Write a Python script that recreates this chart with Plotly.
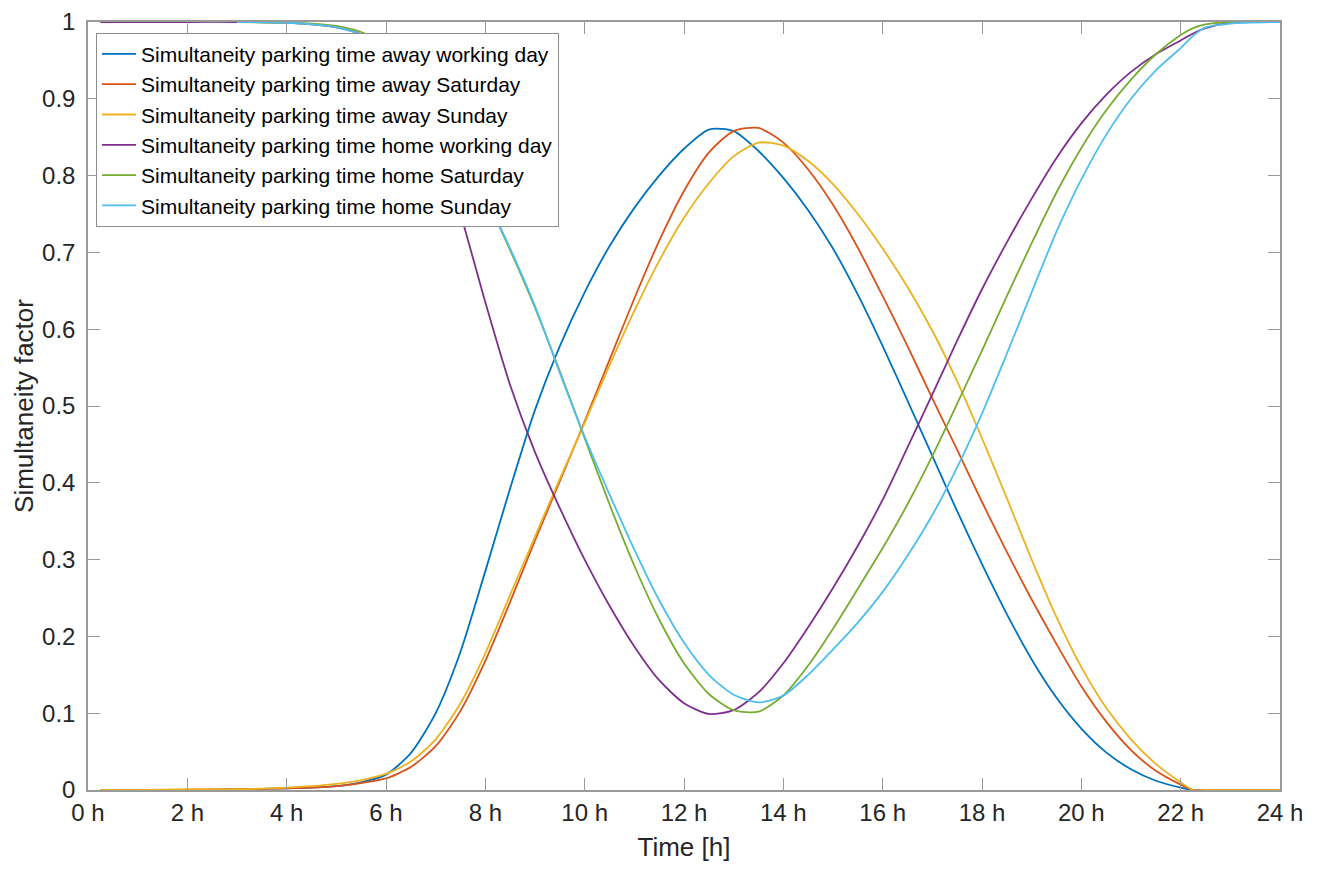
import plotly.graph_objects as go

# time of day [h]
hours = [0.25, 1, 2, 3, 4, 4.5, 5, 5.5, 6, 6.5, 7, 7.5, 8, 8.5, 9, 9.5, 10, 10.5,
         11, 11.5, 12, 12.5, 13, 13.5, 14, 14.5, 15, 15.5, 16, 16.5, 17, 17.5,
         18, 18.5, 19, 19.5, 20, 20.5, 21, 21.5, 22, 22.25, 22.5, 23, 24]

away_working = [0, 0, 0, 0.001, 0.002, 0.003, 0.005, 0.01, 0.02, 0.048, 0.1, 0.18,
                0.285, 0.393, 0.495, 0.578, 0.648, 0.708, 0.758, 0.80, 0.835, 0.86,
                0.858, 0.832, 0.797, 0.755, 0.705, 0.645, 0.578, 0.507, 0.435, 0.363,
                0.294, 0.229, 0.17, 0.12, 0.08, 0.049, 0.027, 0.012, 0.003, 0, 0, 0, 0]
away_saturday = [0, 0, 0, 0.001, 0.002, 0.003, 0.005, 0.009, 0.015, 0.03, 0.057, 0.103,
                 0.168, 0.245, 0.325, 0.402, 0.48, 0.56, 0.64, 0.715, 0.78, 0.83,
                 0.858, 0.862, 0.843, 0.808, 0.762, 0.706, 0.643, 0.578, 0.51, 0.443,
                 0.375, 0.31, 0.248, 0.19, 0.135, 0.089, 0.052, 0.025, 0.007, 0, 0, 0, 0]
away_sunday = [0, 0, 0.001, 0.001, 0.003, 0.005, 0.008, 0.013, 0.021, 0.037, 0.066, 0.113,
               0.178, 0.254, 0.33, 0.405, 0.478, 0.553, 0.624, 0.689, 0.745, 0.79,
               0.825, 0.843, 0.839, 0.819, 0.789, 0.75, 0.705, 0.655, 0.598, 0.532,
               0.458, 0.38, 0.30, 0.225, 0.16, 0.107, 0.066, 0.034, 0.01, 0, 0, 0, 0]
home_working = [1, 1, 1, 1, 0.999, 0.997, 0.993, 0.984, 0.962, 0.92, 0.85, 0.75,
                0.635, 0.527, 0.44, 0.367, 0.30, 0.24, 0.187, 0.143, 0.113, 0.099,
                0.104, 0.127, 0.165, 0.212, 0.263, 0.318, 0.378, 0.446, 0.515, 0.585,
                0.652, 0.713, 0.77, 0.823, 0.868, 0.905, 0.935, 0.958, 0.976, 0.985,
                0.992, 0.999, 1]
home_saturday = [None, None, None, 1, 0.999, 0.998, 0.995, 0.987, 0.97, 0.94, 0.895, 0.838,
                 0.773, 0.703, 0.628, 0.545, 0.458, 0.372, 0.292, 0.222, 0.165, 0.125,
                 0.104, 0.102, 0.123, 0.162, 0.21, 0.262, 0.315, 0.372, 0.435, 0.503,
                 0.572, 0.643, 0.712, 0.778, 0.836, 0.885, 0.925, 0.958, 0.983, 0.992,
                 0.997, 1, 1]
home_sunday = [None, None, None, 1, 0.999, 0.997, 0.993, 0.984, 0.968, 0.94, 0.895, 0.838,
               0.773, 0.705, 0.63, 0.543, 0.46, 0.385, 0.313, 0.247, 0.192, 0.15,
               0.124, 0.114, 0.123, 0.15, 0.183, 0.218, 0.258, 0.305, 0.358, 0.42,
               0.49, 0.568, 0.648, 0.727, 0.795, 0.853, 0.9, 0.937, 0.966, 0.982,
               0.993, 0.998, 1]

series = [
    ("Simultaneity parking time away working day", away_working, "#0072BD"),
    ("Simultaneity parking time away Saturday", away_saturday, "#D95319"),
    ("Simultaneity parking time away Sunday", away_sunday, "#EDB120"),
    ("Simultaneity parking time home working day", home_working, "#7E2F8E"),
    ("Simultaneity parking time home Saturday", home_saturday, "#77AC30"),
    ("Simultaneity parking time home Sunday", home_sunday, "#4DBEEE"),
]

x_ticks = list(range(0, 25, 2))
x_labels = [f"{h} h" for h in x_ticks]
y_ticks = [i / 10 for i in range(11)]
y_labels = ["0", "0.1", "0.2", "0.3", "0.4", "0.5", "0.6", "0.7", "0.8", "0.9", "1"]

fig = go.Figure()
for name, vals, color in series:
    fig.add_trace(go.Scatter(x=hours, y=vals, mode="lines", name=name,
                             line=dict(color=color, width=1.8, shape="spline", smoothing=0.7)))

axis_style = dict(
    showline=True, linecolor="#9a9a9a", linewidth=1.5, mirror="ticks",
    ticks="inside", ticklen=12, tickcolor="#9a9a9a", tickwidth=1.2,
    showgrid=False, zeroline=False, automargin=False,
    tickfont=dict(size=24, color="#262626"),
)

fig.update_xaxes(range=[0, 24], tickvals=x_ticks, ticktext=x_labels,
                 title=dict(text="Time [h]", font=dict(size=26, color="#262626"), standoff=13),
                 **axis_style)
fig.update_yaxes(range=[0, 1], tickvals=y_ticks, ticktext=y_labels,
                 ticklabelstandoff=6,
                 title=dict(text="Simultaneity factor", font=dict(size=26, color="#262626"), standoff=1),
                 **axis_style)

# the page body adds an 8 px offset, so margins are shifted to keep the plot area in place
fig.update_layout(
    width=1322, height=878,
    margin=dict(l=80, r=50, t=14, b=96),
    plot_bgcolor="white", paper_bgcolor="white",
    font=dict(family="Liberation Sans, Arial, sans-serif", color="#262626"),
    legend=dict(x=0.0067, y=0.986, xanchor="left", yanchor="top",
                bgcolor="white", bordercolor="#8c8c8c", borderwidth=1,
                font=dict(size=21, color="#000000"), tracegroupgap=0,
                itemwidth=34),
    showlegend=True,
)

fig.write_html("out.html")
